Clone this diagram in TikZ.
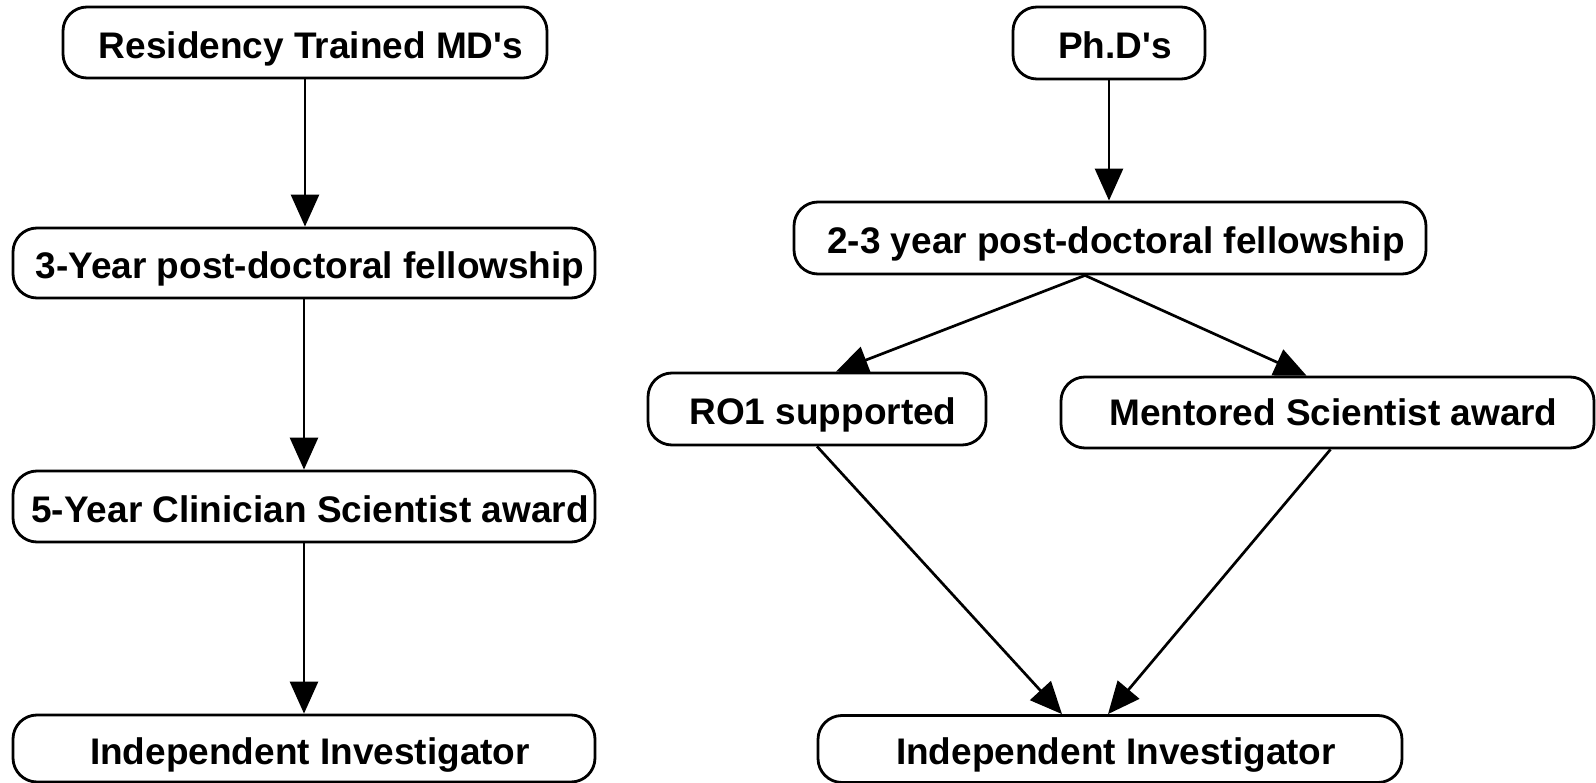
\documentclass[tikz,border=0pt]{standalone}
\usepackage{fontspec}
\setmainfont{Liberation Sans}
\usetikzlibrary{arrows.meta}
\begin{document}
\begin{tikzpicture}[x=1pt,y=-1pt,
  box/.style={draw, line width=2.8pt, rounded corners=24pt, fill=white, inner sep=0pt,
    font=\fontsize{37}{44}\selectfont\bfseries, text height=31.5pt, text depth=0pt,
    execute at begin node=\hspace*{12pt}},
  conn/.style={line width=2.7pt, -{Triangle[length=32pt,width=28pt]}}]
\useasboundingbox (0,0) rectangle (1596,783);
% left column
\node[box, minimum width=484pt, minimum height=71pt] (md) at (305,42.5) {Residency Trained MD\textquotesingle s};
\node[box, minimum width=582pt, minimum height=70pt] (l2) at (304,263) {3-Year post-doctoral fellowship};
\node[box, minimum width=582pt, minimum height=71pt] (l3) at (304,506.5) {5-Year Clinician Scientist award};
\node[box, minimum width=582pt, minimum height=67pt] (l4) at (304,748.5) {Independent Investigator};
% right column
\node[box, minimum width=192pt, minimum height=72pt] (phd) at (1109,43) {Ph.D\textquotesingle s};
\node[box, minimum width=632pt, minimum height=72pt] (r2) at (1110,238) {2-3 year post-doctoral fellowship};
\node[box, minimum width=338pt, minimum height=72pt] (ro1) at (817,409) {RO1 supported};
\node[box, minimum width=533pt, minimum height=71pt, text height=25.5pt] (msa) at (1327.5,412.5) {Mentored Scientist award};
\node[box, minimum width=584pt, minimum height=67pt] (ind) at (1110,749) {Independent Investigator};
% connectors
\draw[conn] (md.south) -- (md.south |- l2.north);
\draw[conn] (l2.south) -- (l2.south |- l3.north);
\draw[conn] (l3.south) -- (l3.south |- l4.north);
\draw[conn] (phd.south) -- (phd.south |- r2.north);
\draw[conn] ([xshift=-25pt]r2.south) -- ([xshift=19pt]ro1.north);
\draw[conn] ([xshift=-25pt]r2.south) -- ([xshift=-21pt]msa.north);
\draw[conn] (ro1.south) -- ([xshift=-48pt]ind.north);
\draw[conn] ([xshift=3pt]msa.south) -- ([xshift=-2pt]ind.north);
\end{tikzpicture}
\end{document}
